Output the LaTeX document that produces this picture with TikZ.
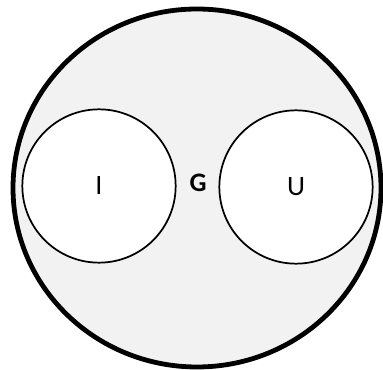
\documentclass[tikz,border=0pt]{standalone}
\usepackage{fontspec}
\setmainfont{Carlito}
\usetikzlibrary{shapes.geometric}
\definecolor{setgray}{RGB}{242,242,242}

\begin{document}
\begin{tikzpicture}[x=0.75pt,y=-0.75pt]

\tikzset{
  subset/.style={circle, draw, line width=1.3pt, fill=white,
                 minimum size=115pt, inner sep=0pt, font=\fontsize{21}{25}\selectfont},
  label/.style={font=\bfseries\fontsize{20}{24}\selectfont}
}

\useasboundingbox (0,0) rectangle (383,370);

% Universe G
\draw[line width=3.6pt, fill=setgray] (197,188) ellipse [x radius=184, y radius=179];

% Subsets
\node[subset] (I) at (99,186) {I};
\node[subset] (U) at (296,187) {U};

\node[label] (G) at (198,183) {G};

\end{tikzpicture}
\end{document}
